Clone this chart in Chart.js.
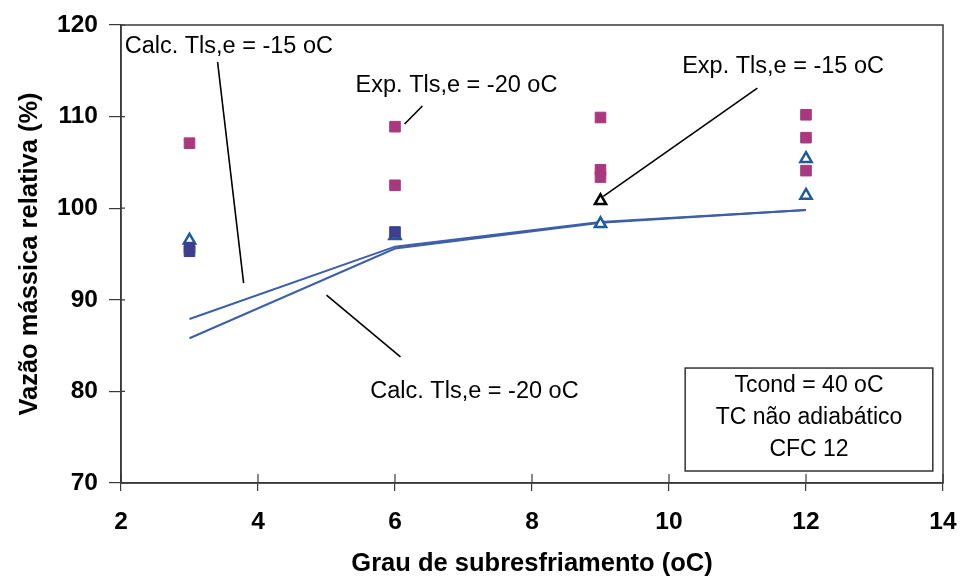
<!DOCTYPE html>
<html>
<head>
<meta charset="utf-8">
<script src="https://cdn.jsdelivr.net/npm/chart.js@4"></script>
<style>
  html, body { margin: 0; padding: 0; background: #fff; }
  #wrap { width: 964px; height: 579px; }
</style>
</head>
<body>
<div id="wrap"><canvas id="chart" width="964" height="579"></canvas></div>
<script>
// Calculated curves
const subcooling = [3, 6, 9, 12];
const calcMinus15 = [87.9, 95.8, 98.5, 99.8];
const calcMinus20 = [85.8, 95.6, 98.4, 99.8];

// Experimental points (magenta squares, Tls,e = -20 oC)
const expMinus20X = [3, 6, 6, 9, 9, 9, 12, 12, 12];
const expMinus20Y = [107.1, 108.9, 102.5, 109.9, 104.2, 103.4, 110.2, 107.7, 104.1];

// Dark blue squares
const expNavyX = [3, 3, 6];
const expNavyY = [95.7, 95.3, 97.4];

// Open triangles (Tls,e = -15 oC)
const expMinus15X = [3, 6, 9, 12, 12];
const expMinus15Y = [96.5, 97.0, 98.3, 105.4, 101.4];

// Highlighted black triangle
const markedX = [9];
const markedY = [100.8];

const xTicks = [2, 4, 6, 8, 10, 12, 14];
const yTicks = [70, 80, 90, 100, 110, 120];

// Annotation labels and pointer lines (data coordinates)
const labelTexts = ['Calc. Tls,e = -15 oC', 'Exp. Tls,e = -20 oC', 'Exp. Tls,e = -15 oC', 'Calc. Tls,e = -20 oC'];
const labelX = [3.574, 6.898, 11.665, 7.16];
const labelY = [117.6, 113.34, 115.52, 80.04];
const pointerFrom = [[3.41, 115.96], [6.40, 111.16], [11.29, 113.1], [5.00, 90.52]];
const pointerTo = [[3.79, 91.83], [6.14, 109.19], [9.04, 101.3], [6.08, 83.76]];

const infoLines = ['Tcond = 40 oC', 'TC não adiabático', 'CFC 12'];

const toPoints = (xs, ys) => xs.map((x, i) => ({ x: x, y: ys[i] }));

const FONT = "'Liberation Sans', Arial, sans-serif";

const annotationPlugin = {
    id: 'annotations',
    afterDatasetsDraw(chart) {
        const ctx = chart.ctx;
        const xs = chart.scales.x;
        const ys = chart.scales.y;
        const area = chart.chartArea;
        const px = v => xs.getPixelForValue(v);
        const py = v => ys.getPixelForValue(v);
        ctx.save();

        // plot frame
        ctx.strokeStyle = '#3a3a3a';
        ctx.lineWidth = 1.5;
        ctx.strokeRect(area.left, area.top, area.right - area.left, area.bottom - area.top);

        // inner parts of tick marks
        ctx.lineWidth = 1.2;
        ctx.beginPath();
        xTicks.forEach(t => {
            ctx.moveTo(px(t), area.bottom);
            ctx.lineTo(px(t), area.bottom - 9);
        });
        yTicks.forEach(t => {
            ctx.moveTo(area.left, py(t));
            ctx.lineTo(area.left + 4, py(t));
        });
        ctx.stroke();

        // pointer lines
        ctx.strokeStyle = '#000';
        ctx.lineWidth = 1.6;
        pointerFrom.forEach((p, i) => {
            ctx.beginPath();
            ctx.moveTo(px(p[0]), py(p[1]));
            ctx.lineTo(px(pointerTo[i][0]), py(pointerTo[i][1]));
            ctx.stroke();
        });

        // labels
        ctx.fillStyle = '#000';
        ctx.font = '23.5px ' + FONT;
        ctx.textAlign = 'center';
        ctx.textBaseline = 'middle';
        labelTexts.forEach((t, i) => {
            ctx.fillText(t, px(labelX[i]), py(labelY[i]));
        });

        // info box
        const bx1 = px(10.236), by1 = py(82.55), bx2 = px(13.851), by2 = py(71.31);
        ctx.fillStyle = '#fff';
        ctx.fillRect(bx1, by1, bx2 - bx1, by2 - by1);
        ctx.strokeStyle = '#333';
        ctx.lineWidth = 1.5;
        ctx.strokeRect(bx1, by1, bx2 - bx1, by2 - by1);
        ctx.fillStyle = '#000';
        ctx.font = '23px ' + FONT;
        const infoY = [80.59, 77.10, 73.60];
        infoLines.forEach((t, i) => ctx.fillText(t, px(12.044), py(infoY[i])));

        ctx.restore();
    }
};

const ctx = document.getElementById('chart').getContext('2d');
new Chart(ctx, {
    type: 'scatter',
    data: {
        datasets: [
            {
                label: 'Exp. marcado',
                data: toPoints(markedX, markedY),
                pointStyle: 'triangle',
                pointRadius: 6.5,
                pointBorderWidth: 2.5,
                pointBackgroundColor: '#fff',
                pointBorderColor: '#000',
                order: 0
            },
            {
                label: 'Exp. Tls,e = -20 oC',
                data: toPoints(expMinus20X, expMinus20Y),
                pointStyle: 'rect',
                pointRadius: 7.5,
                pointBorderWidth: 1,
                pointBackgroundColor: '#a8397f',
                pointBorderColor: '#a8397f',
                order: 1
            },
            {
                label: 'Exp. (azul)',
                data: toPoints(expNavyX, expNavyY),
                pointStyle: 'rect',
                pointRadius: 7.5,
                pointBorderWidth: 1,
                pointBackgroundColor: '#3d3f8f',
                pointBorderColor: '#3d3f8f',
                order: 2
            },
            {
                label: 'Exp. Tls,e = -15 oC',
                data: toPoints(expMinus15X, expMinus15Y),
                pointStyle: 'triangle',
                pointRadius: 6.5,
                pointBorderWidth: 2.5,
                pointBackgroundColor: '#fff',
                pointBorderColor: '#1f5b98',
                order: 3
            },
            {
                label: 'Calc. Tls,e = -15 oC',
                data: toPoints(subcooling, calcMinus15),
                showLine: true,
                borderColor: '#3d5ea8',
                borderWidth: 2,
                pointRadius: 0,
                order: 4
            },
            {
                label: 'Calc. Tls,e = -20 oC',
                data: toPoints(subcooling, calcMinus20),
                showLine: true,
                borderColor: '#3d5ea8',
                borderWidth: 2,
                pointRadius: 0,
                order: 5
            }
        ]
    },
    options: {
        responsive: false,
        animation: false,
        layout: { padding: { top: 25, right: 21, left: 0, bottom: 0 } },
        plugins: {
            legend: { display: false },
            tooltip: { enabled: false }
        },
        scales: {
            x: {
                type: 'linear',
                min: 2,
                max: 14,
                afterFit: s => { s.height = 96; s.paddingLeft = 0; s.paddingRight = 0; },
                afterBuildTicks: s => { s.ticks = xTicks.map(v => ({ value: v })); },
                ticks: {
                    color: '#000',
                    font: { family: FONT, size: 24.5, weight: 'bold' },
                    padding: 17,
                    maxRotation: 0
                },
                grid: { display: true, drawOnChartArea: false, drawTicks: true, tickLength: 8, color: '#3a3a3a', lineWidth: 1.2 },
                border: { display: true, color: '#3a3a3a', width: 1.5 },
                title: {
                    display: true,
                    text: 'Grau de subresfriamento (oC)',
                    color: '#000',
                    font: { family: FONT, size: 25.5, weight: 'bold' },
                    padding: { top: 0, bottom: 0 }
                }
            },
            y: {
                type: 'linear',
                min: 70,
                max: 120,
                afterFit: s => { s.width = 121; s.paddingTop = 0; s.paddingBottom = 0; },
                afterBuildTicks: s => { s.ticks = yTicks.map(v => ({ value: v })); },
                ticks: {
                    color: '#000',
                    font: { family: FONT, size: 24.5, weight: 'bold' },
                    padding: 11
                },
                grid: { display: true, drawOnChartArea: false, drawTicks: true, tickLength: 12, color: '#3a3a3a', lineWidth: 1.2 },
                border: { display: true, color: '#3a3a3a', width: 1.5 },
                title: {
                    display: true,
                    text: 'Vazão mássica relativa (%)',
                    color: '#000',
                    font: { family: FONT, size: 25.5, weight: 'bold' },
                    padding: { top: 15, bottom: 0 }
                }
            }
        }
    },
    plugins: [annotationPlugin]
});
</script>
</body>
</html>
